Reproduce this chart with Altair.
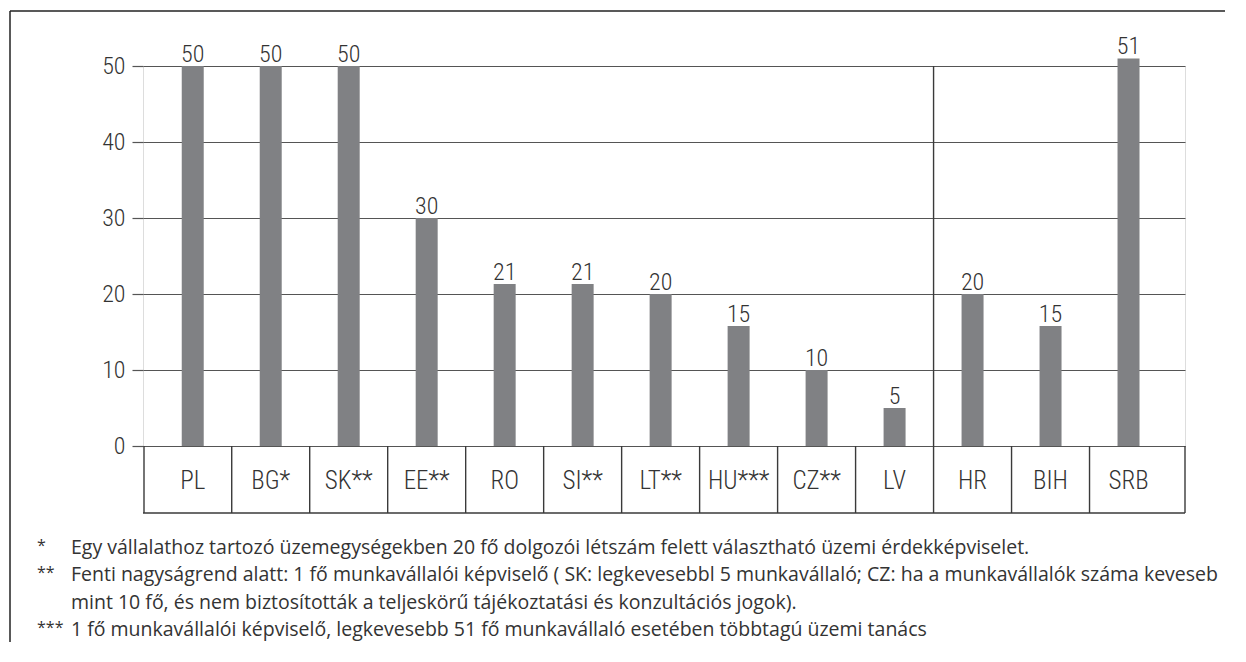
import altair as alt
import pandas as pd

# ---- data ----
categories = ["PL", "BG*", "SK**", "EE**", "RO", "SI**", "LT**", "HU***", "CZ**", "LV", "HR", "BIH", "SRB"]
bar_values = [50, 50, 50, 30, 21.3, 21.3, 20, 15.8, 10, 5, 20, 15.8, 51]
value_labels = ["50", "50", "50", "30", "21", "21", "20", "15", "10", "5", "20", "15", "51"]
y_ticks = [0, 10, 20, 30, 40, 50]
group_split = "HR"  # first category of the second group
footnote_marks = ["*", "**", "", "***"]
footnote_lines = [
    "Egy vállalathoz tartozó üzemegységekben 20 fő dolgozói létszám felett választható üzemi érdekképviselet.",
    "Fenti nagyságrend alatt: 1 fő munkavállalói képviselő ( SK: legkevesebbl 5 munkavállaló;  CZ: ha a munkavállalók száma keveseb",
    "mint 10 fő, és nem biztosították a teljeskörű tájékoztatási és konzultációs jogok).",
    "1 fő munkavállalói képviselő, legkevesebb 51 fő munkavállaló esetében többtagú üzemi tanács",
]

df = pd.DataFrame({"cat": categories, "value": bar_values, "label": value_labels})

# ---- layout / style ----
W, H = 1042, 380
TABLE_H = 67
STEP_GAP = 28  # half the gap between bars
COND = "Roboto Condensed, Liberation Sans Narrow, DejaVu Sans Condensed, sans-serif"
CW = 300
REG = "Open Sans, Noto Sans, sans-serif"
TXT = "#333333"
LINE = "#3a3a3a"

xscale = alt.Scale(domain=categories, paddingInner=0.718, paddingOuter=0.54, align=0.46)
x_enc = alt.X("cat:N", scale=xscale, axis=None, sort=categories)
yscale = alt.Scale(domain=[0, 50], nice=False, zero=True)

base = alt.Chart(df)

bars = base.mark_bar(color="#808184", clip=False).encode(
    x=x_enc,
    y=alt.Y("value:Q", scale=yscale,
            axis=alt.Axis(values=y_ticks, grid=True, gridColor="#555555", gridWidth=1.2,
                          tickColor="#555555", tickSize=11, tickWidth=1.2, domain=False,
                          labelFont=COND, labelFontWeight=CW, labelFontSize=24, labelColor=TXT,
                          labelPadding=7, title=None)),
)

vlabels = base.mark_text(font=COND, fontWeight=CW, fontSize=24, color=TXT, baseline="alphabetic", dy=-4).encode(
    x=x_enc, y=alt.Y("value:Q", scale=yscale), text="label:N"
)

# table of category names under the plot
table_text = base.mark_text(font=COND, fontWeight=CW, fontSize=25, color=TXT, baseline="middle").encode(
    x=x_enc, y=alt.value(H + TABLE_H / 2 + 1), text="cat:N"
)

inner = df[df["cat"] != categories[0]]
table_borders = alt.Chart(inner).mark_rule(color=LINE, strokeWidth=1.4, xOffset=-STEP_GAP).encode(
    x=alt.X("cat:N", scale=xscale, axis=None, bandPosition=0),
    y=alt.value(H),
    y2=alt.value(H + TABLE_H),
)
split = alt.Chart(df[df["cat"] == group_split]).mark_rule(color=LINE, strokeWidth=1.4, xOffset=-STEP_GAP).encode(
    x=alt.X("cat:N", scale=xscale, axis=None, bandPosition=0),
    y=alt.value(0),
    y2=alt.value(H),
)

one = pd.DataFrame({"a": [0]})
table_bottom = alt.Chart(one).mark_rule(color=LINE, strokeWidth=1.4).encode(
    x=alt.value(0), x2=alt.value(W), y=alt.value(H + TABLE_H)
)
table_left = alt.Chart(one).mark_rule(color=LINE, strokeWidth=1.4).encode(
    x=alt.value(1), y=alt.value(H), y2=alt.value(H + TABLE_H)
)
table_right = alt.Chart(one).mark_rule(color=LINE, strokeWidth=1.4).encode(
    x=alt.value(W), y=alt.value(H), y2=alt.value(H + TABLE_H)
)

# outer frame (top and left edges visible)
frame_top = alt.Chart(one).mark_rule(color="#222222", strokeWidth=1.5).encode(
    x=alt.value(-133), x2=alt.value(W + 60), y=alt.value(-55)
)
frame_left = alt.Chart(one).mark_rule(color="#222222", strokeWidth=1.5).encode(
    x=alt.value(-133), y=alt.value(-55), y2=alt.value(H + 220)
)

# footnotes
notes = []
for i, (m, t) in enumerate(zip(footnote_marks, footnote_lines)):
    yy = 482 + i * 27.3
    if m:
        notes.append(alt.Chart(one).mark_text(font=REG, fontSize=16, color=TXT, align="left",
                                              baseline="middle", text=m).encode(
            x=alt.value(-106), y=alt.value(yy - 2)))
    notes.append(alt.Chart(one).mark_text(font=REG, fontSize=19.5, color=TXT, align="left",
                                          baseline="middle", text=t).encode(
        x=alt.value(-72), y=alt.value(yy)))

chart = alt.layer(
    bars, vlabels, table_text, table_borders, split, table_bottom, table_left, table_right,
    frame_top, frame_left, *notes
).properties(
    width=W, height=H,
    autosize=alt.AutoSizeParams(type="none"),
    padding={"left": 135, "top": 58, "right": 40, "bottom": 196},
).configure_view(fill="#e6e7e8", stroke=None).configure(background="white")

chart.save("out.html", embed_options={"renderer": "svg", "actions": False})
